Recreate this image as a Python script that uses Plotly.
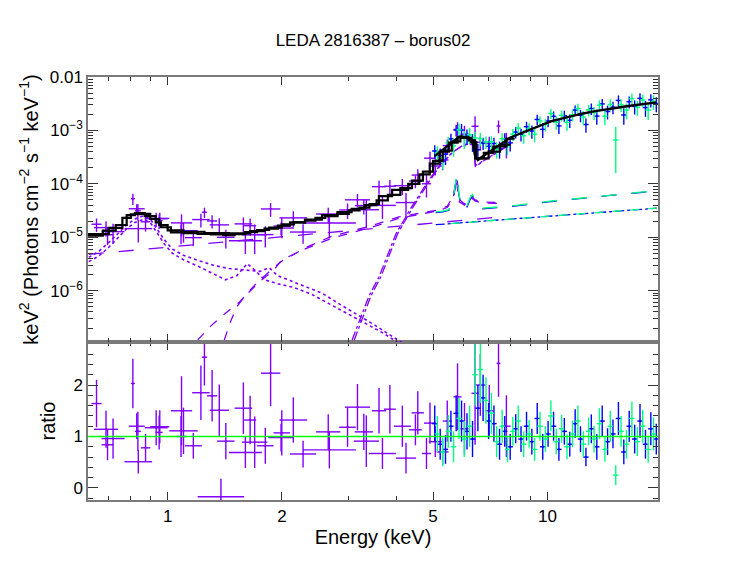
import numpy as np
import plotly.graph_objects as go

# LEDA 2816387 fitted with borus02: unfolded spectrum (top) and data/model ratio (bottom)

PURPLE = '#8000ff'
BLUE = '#0000ff'
GREEN = '#00ff80'

# soft X-ray data (purple): bin edges (keV), data/model ratio, 1-sigma ratio error
p_lo = [0.63, 0.64, 0.67, 0.67, 0.77, 0.79, 0.80, 0.82, 0.85, 0.87, 0.90, 0.93, 1.02, 1.01, 1.05,
        1.11, 1.16, 1.23, 1.27, 1.29, 1.35, 1.20, 1.50, 1.45, 1.59, 1.57, 1.72, 1.76, 1.84, 1.90,
        1.97, 2.10, 2.27, 2.46, 2.83, 2.93, 3.11, 3.09, 3.45, 3.71, 3.39, 3.94, 3.99, 4.32, 4.39,
        4.73, 4.67, 4.87, 5.11, 5.30, 5.66, 5.90, 6.31, 6.46, 6.86, 7.35, 7.60]
p_hi = [0.67, 0.74, 0.72, 0.77, 0.91, 0.87, 0.82, 0.85, 0.90, 1.00, 1.01, 0.97, 1.16, 1.20, 1.12,
        1.23, 1.29, 1.27, 1.35, 1.45, 1.50, 1.59, 1.67, 1.77, 1.71, 1.83, 1.90, 1.98, 2.15, 2.10,
        2.33, 2.46, 3.13, 2.85, 3.13, 3.41, 3.47, 3.60, 3.76, 3.99, 3.99, 4.37, 4.51, 4.67, 4.73,
        5.09, 4.94, 5.27, 5.49, 5.60, 5.94, 6.20, 6.59, 6.86, 7.20, 7.52, 8.00]
p_ratio = [1.64, 1.14, 0.84, 0.96, 0.51, 1.20, 2.03, 1.10, 0.78, 1.17, 1.19, 1.08, 1.50, 1.11, 1.00,
           0.82, 1.85, 2.54, 1.79, 1.51, 0.91, -0.17, 1.55, 0.69, 1.32, 0.89, 0.82, 2.23, 0.98, 1.07,
           1.32, 0.66, 0.74, 1.09, 1.18, 1.57, 1.09, 0.91, 1.50, 1.53, 0.67, 1.20, 0.58, 1.13, 1.46,
           1.26, 0.67, 0.90, 0.70, 1.30, 1.77, 1.15, 1.84, 2.00, 1.50, 2.42, 1.20]
p_err = [0.46, 0.36, 0.30, 0.39, 0.23, 0.25, 0.48, 0.38, 0.27, 0.34, 0.32, 0.33, 0.67, 0.45, 0.40,
         0.25, 0.53, 0.55, 0.50, 0.50, 0.35, 0.35, 0.50, 0.30, 0.47, 0.50, 0.35, 0.64, 0.27, 0.44,
         0.44, 0.26, 0.36, 0.34, 0.38, 0.45, 0.35, 0.50, 0.44, 0.47, 0.30, 0.40, 0.30, 0.30, 0.42,
         0.40, 0.30, 0.30, 0.25, 0.40, 0.65, 0.50, 1.00, 0.60, 0.50, 0.65, 0.60]

# black step models of the two soft-band spectra
stepA_edges = [0.617, 0.675, 0.73, 0.78, 0.82, 0.87, 0.93, 0.96, 1.02, 1.1, 1.2, 1.3, 1.4, 1.5, 1.6,
               1.72, 1.85, 2.0, 2.15, 2.3, 2.45, 2.6, 2.8, 3.0, 3.2, 3.4, 3.6, 3.9, 4.3, 4.6, 4.9,
               5.2, 5.5, 5.8, 6.2, 6.45, 6.8, 7.2, 7.8, 8.2]
stepA_vals = [1.07e-5, 1.33e-5, 1.7e-5, 2.6e-5, 2.85e-5, 2.5e-5, 1.9e-5, 1.54e-5, 1.24e-5, 1.2e-5,
              1.16e-5, 1.13e-5, 1.1e-5, 1.15e-5, 1.25e-5, 1.37e-5, 1.52e-5, 1.75e-5, 1.9e-5, 2.05e-5,
              2.3e-5, 2.5e-5, 2.75e-5, 3.2e-5, 3.6e-5, 4.2e-5, 5.9e-5, 7.7e-5, 1.0e-4, 1.5e-4,
              2.4e-4, 4.0e-4, 5.9e-4, 7.4e-4, 6.5e-4, 3.0e-4, 3.8e-4, 5.0e-4, 7.0e-4]
stepB_edges = [0.617, 0.70, 0.76, 0.80, 0.85, 0.90, 0.95, 1.0, 1.1, 1.25, 1.45, 1.65, 1.8, 1.95, 2.1,
               2.3, 2.55, 2.8, 3.05, 3.3, 3.55, 3.8, 4.1, 4.4, 4.7, 5.0, 5.3, 5.6, 5.9, 6.3, 6.5,
               7.0, 7.5, 8.0]
stepB_vals = [1.15e-5, 1.5e-5, 2.3e-5, 2.7e-5, 2.75e-5, 2.2e-5, 1.7e-5, 1.35e-5, 1.27e-5, 1.2e-5,
              1.18e-5, 1.3e-5, 1.45e-5, 1.65e-5, 1.9e-5, 2.15e-5, 2.6e-5, 2.95e-5, 3.4e-5, 4.0e-5,
              4.9e-5, 6.2e-5, 8.3e-5, 1.15e-4, 1.7e-4, 2.7e-4, 4.2e-4, 6.2e-4, 7.3e-4, 6.0e-4,
              3.0e-4, 4.0e-4, 5.4e-4]

# hard X-ray grid: FPMA (blue) on even entries, FPMB (green) on odd entries
nu_e = [5.05, 5.13, 5.22, 5.30, 5.39, 5.48, 5.57, 5.66, 5.75, 5.85, 5.94, 6.04, 6.14, 6.24, 6.35,
        6.45, 6.56, 6.66, 6.77, 6.89, 7.00, 7.12, 7.23, 7.35, 7.48, 7.60, 7.72, 7.85, 7.98, 8.11,
        8.25, 8.38, 8.52, 8.66, 8.81, 8.95, 9.10, 9.25, 9.40, 9.56, 9.72, 9.88, 10.04, 10.21,
        10.38, 10.55, 10.72, 10.90, 11.08, 11.26, 11.45, 11.64, 11.83, 12.03, 12.22, 12.43, 12.63,
        12.84, 13.05, 13.27, 13.49, 13.71, 13.94, 14.17, 14.40, 14.64, 14.88, 15.13, 15.38, 15.63,
        15.89, 16.15, 16.42, 16.69, 16.97, 17.25, 17.53, 17.82, 18.12, 18.42, 18.72, 19.03, 19.35]
nu_mod = [3.3e-4, 3.6e-4, 4.0e-4, 4.4e-4, 4.8e-4, 5.3e-4, 5.8e-4, 6.4e-4, 7.0e-4, 7.6e-4, 7.8e-4,
          7.5e-4, 7.2e-4, 6.9e-4, 6.6e-4, 3.3e-4, 2.8e-4, 3.04e-4, 3.3e-4, 3.58e-4, 3.88e-4,
          4.21e-4, 4.57e-4, 4.96e-4, 5.38e-4, 5.84e-4, 6.33e-4, 6.87e-4, 7.3e-4, 7.7e-4, 8.1e-4,
          8.5e-4, 8.9e-4, 9.35e-4, 9.8e-4, 1.03e-3, 1.08e-3, 1.13e-3, 1.19e-3, 1.25e-3, 1.31e-3,
          1.37e-3, 1.43e-3, 1.48e-3, 1.53e-3, 1.58e-3, 1.62e-3, 1.67e-3, 1.72e-3, 1.77e-3, 1.82e-3,
          1.87e-3, 1.92e-3, 1.98e-3, 2.03e-3, 2.09e-3, 2.15e-3, 2.19e-3, 2.23e-3, 2.28e-3, 2.32e-3,
          2.37e-3, 2.41e-3, 2.46e-3, 2.51e-3, 2.55e-3, 2.60e-3, 2.65e-3, 2.70e-3, 2.74e-3, 2.78e-3,
          2.83e-3, 2.87e-3, 2.92e-3, 2.96e-3, 3.01e-3, 3.06e-3, 3.10e-3, 3.15e-3, 3.20e-3, 3.25e-3,
          3.30e-3, 3.35e-3]
fpma_ratio = [1.25, 0.85, 0.75, 1.20, 1.45, 1.30, 1.10, 0.95, 1.55, 1.75, 1.30, 1.25, 0.85, 1.10,
              0.80, 1.15, 0.95, 1.20, 0.90, 1.35, 0.80, 1.05, 1.20, 0.75, 1.10, 0.85, 1.25, 0.95,
              0.60, 1.15, 0.80, 1.30, 0.90, 1.05, 1.35, 0.70, 1.20, 0.95, 1.30, 0.85, 1.15, 0.95]
fpma_err = [0.35, 0.30, 0.28, 0.30, 0.35, 0.40, 0.35, 0.35, 0.45, 0.45, 0.35, 0.35, 0.30, 0.30,
            0.25, 0.28, 0.25, 0.28, 0.25, 0.30, 0.25, 0.25, 0.28, 0.22, 0.26, 0.24, 0.28, 0.25,
            0.18, 0.28, 0.25, 0.30, 0.26, 0.28, 0.32, 0.24, 0.30, 0.28, 0.33, 0.28, 0.32, 0.30]
fpmb_ratio = [1.05, 0.70, 1.10, 0.80, 1.35, 0.95, 1.20, 2.20, 2.30, 1.70, 1.45, 0.90, 1.20, 0.75,
              1.10, 1.30, 0.85, 1.05, 0.75, 1.20, 0.95, 1.40, 0.90, 1.15, 0.80, 1.05, 1.30, 0.85,
              1.10, 0.95, 1.25, 0.75, 1.20, 0.25, 1.10, 0.85, 1.35, 0.90, 1.20, 0.75, 1.05]
fpmb_err = [0.35, 0.28, 0.32, 0.30, 0.40, 0.35, 0.40, 0.60, 0.65, 0.45, 0.40, 0.30, 0.32, 0.25,
            0.28, 0.30, 0.25, 0.27, 0.22, 0.28, 0.25, 0.30, 0.25, 0.27, 0.24, 0.26, 0.30, 0.25,
            0.27, 0.26, 0.30, 0.24, 0.30, 0.19, 0.30, 0.28, 0.33, 0.28, 0.32, 0.26, 0.32]

# soft-band model components (purple)
apec1_e = [0.62, 0.66, 0.70, 0.74, 0.78, 0.82, 0.86, 0.90, 0.94, 0.98, 1.03, 1.10, 1.20, 1.32,
           1.45, 1.60, 1.75, 1.85, 1.95, 2.10, 2.30, 2.55, 2.85, 3.15, 3.50, 3.90, 4.20]
apec1_f = [4.2e-6, 5.5e-6, 8.0e-6, 1.2e-5, 1.7e-5, 2.2e-5, 2.5e-5, 2.2e-5, 1.4e-5, 9.0e-6, 6.0e-6,
           4.6e-6, 3.7e-6, 3.0e-6, 2.6e-6, 2.4e-6, 2.3e-6, 2.7e-6, 1.9e-6, 1.55e-6, 1.2e-6,
           9.0e-7, 5.5e-7, 3.6e-7, 2.3e-7, 1.4e-7, 1.0e-7]
apec2_e = [0.62, 0.66, 0.70, 0.74, 0.78, 0.82, 0.86, 0.90, 0.94, 0.98, 1.03, 1.10, 1.20, 1.32,
           1.42, 1.52, 1.62, 1.70, 1.80, 1.95, 2.15, 2.40, 2.70, 3.00, 3.30, 3.70, 4.10]
apec2_f = [3.5e-6, 4.5e-6, 6.5e-6, 1.0e-5, 1.45e-5, 1.9e-5, 2.15e-5, 1.9e-5, 1.2e-5, 7.5e-6,
           5.0e-6, 3.8e-6, 2.9e-6, 2.1e-6, 1.6e-6, 1.9e-6, 3.2e-6, 2.4e-6, 1.6e-6, 1.35e-6,
           1.15e-6, 8.5e-7, 5.5e-7, 3.6e-7, 2.5e-7, 1.6e-7, 1.0e-7]
refl1_e = [1.20, 1.30, 1.42, 1.545, 1.70, 1.89, 2.00, 2.32, 2.71, 3.45, 4.06, 4.60, 5.10, 5.45,
           5.65, 5.77, 5.88, 6.05, 6.30, 6.45, 6.70, 7.20, 7.70]
refl1_f = [1.2e-7, 2.2e-7, 3.8e-7, 6.1e-7, 1.3e-6, 2.6e-6, 3.6e-6, 6.5e-6, 1.05e-5, 1.65e-5,
           2.4e-5, 2.8e-5, 3.2e-5, 3.8e-5, 6.0e-5, 1.3e-4, 5.0e-5, 4.2e-5, 6.0e-5, 5.0e-5,
           4.6e-5, 4.5e-5, 4.6e-5]
refl2_e = [1.41, 1.46, 1.52, 1.60, 1.75, 1.90, 2.00, 2.32, 2.71, 3.45, 4.06, 4.60, 5.10, 5.45,
           5.65, 5.76, 5.86, 6.05, 6.28, 6.45, 6.70, 7.20, 7.60]
refl2_f = [1.2e-7, 2.5e-7, 5.0e-7, 8.0e-7, 1.5e-6, 2.4e-6, 3.8e-6, 6.2e-6, 9.6e-6, 1.55e-5,
           2.25e-5, 2.7e-5, 3.1e-5, 3.6e-5, 5.5e-5, 1.15e-4, 4.6e-5, 4.0e-5, 5.6e-5, 4.8e-5,
           4.4e-5, 4.3e-5, 4.4e-5]
trans1_e = [3.06, 3.19, 3.39, 3.60, 3.82, 4.00, 4.39, 4.86, 5.20, 5.60, 6.00, 6.40, 6.46, 6.80,
            7.40, 8.00]
trans1_f = [1.2e-7, 2.6e-7, 8.0e-7, 1.8e-6, 5.0e-6, 1.2e-5, 3.7e-5, 1.15e-4, 2.2e-4, 3.8e-4,
            5.3e-4, 5.5e-4, 2.1e-4, 2.7e-4, 3.9e-4, 5.6e-4]
trans2_e = [3.10, 3.23, 3.43, 3.64, 3.86, 4.04, 4.43, 4.90, 5.25, 5.65, 6.05, 6.40, 6.46, 6.85,
            7.45, 8.00]
trans2_f = [1.2e-7, 2.6e-7, 8.0e-7, 1.8e-6, 5.0e-6, 1.2e-5, 3.7e-5, 1.15e-4, 2.3e-4, 4.0e-4,
            5.5e-4, 5.6e-4, 2.2e-4, 2.8e-4, 4.1e-4, 5.7e-4]
scat_e = [0.62, 1.0, 2.0, 4.0, 7.8]
scat_f = [4.8e-6, 6.5e-6, 1.02e-5, 1.6e-5, 2.46e-5]

# hard-band model components (blue FPMA, green FPMB)
nurefl_e = [5.08, 5.30, 5.50, 5.65, 5.77, 5.85, 5.95, 6.10, 6.25, 6.35, 6.48, 6.70, 7.44, 8.39,
            10.05, 12.05, 14.40, 17.30, 19.40]
nureflA_f = [2.9e-5, 3.0e-5, 3.2e-5, 5.0e-5, 1.45e-4, 6.0e-5, 3.4e-5, 3.3e-5, 5.0e-5, 6.0e-5,
             4.5e-5, 3.4e-5, 3.6e-5, 3.9e-5, 4.6e-5, 5.3e-5, 6.0e-5, 6.8e-5, 7.4e-5]
nureflB_f = [3.0e-5, 3.1e-5, 3.3e-5, 5.4e-5, 1.5e-4, 6.4e-5, 3.6e-5, 3.5e-5, 5.4e-5, 6.3e-5,
             4.7e-5, 3.5e-5, 3.7e-5, 4.0e-5, 4.7e-5, 5.4e-5, 6.1e-5, 6.9e-5, 7.5e-5]
nuscatA_e = [5.08, 10.0, 19.4]
nuscatA_f = [1.72e-5, 2.46e-5, 3.5e-5]
nuscatB_e = [5.57, 10.0, 19.4]
nuscatB_f = [1.8e-5, 2.48e-5, 3.52e-5]

# ---------------------------------------------------------------------------
p_lo = np.array(p_lo)
p_hi = np.array(p_hi)
p_ratio = np.array(p_ratio)
p_err = np.array(p_err)
p_cen = np.sqrt(p_lo * p_hi)
idx = np.searchsorted(stepA_edges, p_cen) - 1
p_mod = np.array(stepA_vals)[idx]
p_flux = p_ratio * p_mod
p_ferr = p_err * p_mod
p_flux_plot = np.where(p_flux > 0, p_flux, np.nan)

nu_e = np.array(nu_e)
nu_mod = np.array(nu_mod)


def crosses(e, y, err, color, xa, ya, log=False):
    e = np.asarray(e)
    y = np.asarray(y)
    err = np.asarray(err)
    gap = np.gradient(e) / 2
    minus = np.minimum(err, 0.999 * y) if log else err
    return go.Scatter(
        x=e, y=y, mode='markers', xaxis=xa, yaxis=ya,
        marker=dict(size=2, color=color),
        error_x=dict(type='data', array=gap, width=0, thickness=1.4, color=color),
        error_y=dict(type='data', array=err, arrayminus=minus, width=0, thickness=1.4,
                     color=color),
        hoverinfo='skip')


def soft_crosses(y, err, ya, log=False):
    minus = np.minimum(err, 0.999 * np.nan_to_num(y, nan=1.0)) if log else err
    return go.Scatter(
        x=p_cen, y=y, mode='markers', xaxis='x2' if log else 'x', yaxis=ya,
        marker=dict(size=2, color=PURPLE),
        error_x=dict(type='data', array=p_hi - p_cen, arrayminus=p_cen - p_lo, width=0,
                     thickness=1.4, color=PURPLE),
        error_y=dict(type='data', array=err, arrayminus=minus, width=0, thickness=1.4,
                     color=PURPLE),
        hoverinfo='skip')


def comp(e, f, color, dash, width=1.3, shape='linear'):
    return go.Scatter(x=e, y=f, mode='lines', xaxis='x2', yaxis='y2',
                      line=dict(color=color, dash=dash, width=width, shape=shape),
                      hoverinfo='skip')


fig = go.Figure()

# components
fig.add_trace(comp(apec1_e, apec1_f, PURPLE, 'dot', 1.6))
fig.add_trace(comp(apec2_e, apec2_f, PURPLE, 'dot', 1.6))
fig.add_trace(comp(scat_e, scat_f, PURPLE, 'longdash'))
fig.add_trace(comp(refl1_e, refl1_f, PURPLE, 'dash'))
fig.add_trace(comp(refl2_e, refl2_f, PURPLE, 'dash'))
fig.add_trace(comp(trans1_e, trans1_f, PURPLE, 'dashdot'))
fig.add_trace(comp(trans2_e, trans2_f, PURPLE, 'dashdot'))
fig.add_trace(comp(nurefl_e, nureflA_f, BLUE, 'longdash'))
fig.add_trace(comp(nurefl_e, nureflB_f, GREEN, 'longdash'))
fig.add_trace(comp(nuscatA_e, nuscatA_f, BLUE, 'dashdot'))
fig.add_trace(comp(nuscatB_e, nuscatB_f, GREEN, 'dash'))

# data, top panel
fig.add_trace(soft_crosses(p_flux_plot, p_ferr, 'y2', log=True))
fig.add_trace(crosses(nu_e[0::2], fpma_ratio * nu_mod[0::2], np.array(fpma_err) * nu_mod[0::2],
                      BLUE, 'x2', 'y2', log=True))
fig.add_trace(crosses(nu_e[1::2], fpmb_ratio * nu_mod[1::2], np.array(fpmb_err) * nu_mod[1::2],
                      GREEN, 'x2', 'y2', log=True))

# models
fig.add_trace(comp(stepA_edges, stepA_vals + [stepA_vals[-1]], 'black', 'solid', 2.2, 'hv'))
fig.add_trace(comp(stepB_edges, stepB_vals + [stepB_vals[-1]], 'black', 'solid', 2.2, 'hv'))
fig.add_trace(comp(nu_e, nu_mod, 'black', 'solid', 2.4))

# ratio panel
fig.add_trace(soft_crosses(p_ratio, p_err, 'y'))
fig.add_trace(crosses(nu_e[0::2], fpma_ratio, fpma_err, BLUE, 'x', 'y'))
fig.add_trace(crosses(nu_e[1::2], fpmb_ratio, fpmb_err, GREEN, 'x', 'y'))

xr = [np.log10(0.617), np.log10(19.55)]
x_minor = [0.7, 0.8, 0.9, 3, 4, 6, 7, 8, 9]
y_minor = [m * 10.0 ** d for d in range(-7, -2) for m in range(2, 10)]
frame = dict(showline=True, linecolor='#7a7a7a', linewidth=1.5, mirror='ticks',
             ticks='inside', tickcolor='#333', tickwidth=1, showgrid=False, zeroline=False,
             automargin=False)

# the page adds an 8 px body margin, so the figure box is shifted by 8 px
fig.update_layout(
    width=747, height=578,
    margin=dict(l=80, r=97, t=69, b=86),
    paper_bgcolor='white', plot_bgcolor='white',
    showlegend=False,
    font=dict(family='Liberation Sans, Arial, sans-serif', size=17, color='black'),
    title=dict(text='LEDA 2816387 – borus02', x=365 / 747, xanchor='center',
               y=1 - 32 / 578, yanchor='middle', font=dict(size=17)),
    xaxis=dict(type='log', range=xr, anchor='y', domain=[0, 1],
               tickmode='array', tickvals=[1, 2, 5, 10], ticktext=['1', '2', '5', '10'],
               ticklen=8, minor=dict(tickmode='array', tickvals=x_minor, ticks='inside',
                                     ticklen=4, tickcolor='#333'),
               title=dict(text='Energy (keV)', standoff=2), **frame),
    xaxis2=dict(type='log', range=xr, anchor='y2', matches='x', showticklabels=False,
                tickmode='array', tickvals=[1, 2, 5, 10], ticklen=8,
                minor=dict(tickmode='array', tickvals=x_minor, ticks='inside', ticklen=4,
                           tickcolor='#333'), **frame),
    yaxis=dict(domain=[0, 0.3735], range=[-0.233, 2.835], anchor='x',
               tickmode='array', tickvals=[0, 1, 2], ticklen=10,
               minor=dict(dtick=0.2, ticks='inside', ticklen=5, tickcolor='#333'),
               title=dict(text='ratio', standoff=12), **frame),
    yaxis2=dict(type='log', domain=[0.3735, 1], range=[-6.96, -2], anchor='x2',
                tickmode='array', tickvals=[1e-6, 1e-5, 1e-4, 1e-3, 1e-2],
                ticktext=['10<sup>−6</sup>', '10<sup>−5</sup>', '10<sup>−4</sup>',
                          '10<sup>−3</sup>', '0.01'],
                ticklen=10,
                minor=dict(tickmode='array', tickvals=y_minor, ticks='inside', ticklen=5,
                           tickcolor='#333'),
                title=dict(text='keV<sup>2</sup> (Photons cm<sup>−2</sup> s<sup>−1</sup> '
                                'keV<sup>−1</sup>)', standoff=6), **frame),
    shapes=[dict(type='line', xref='x domain', x0=0, x1=1, yref='y', y0=1, y1=1,
                 line=dict(color='#00ff00', width=1.5), layer='above')],
)

fig.write_html("out.html")
